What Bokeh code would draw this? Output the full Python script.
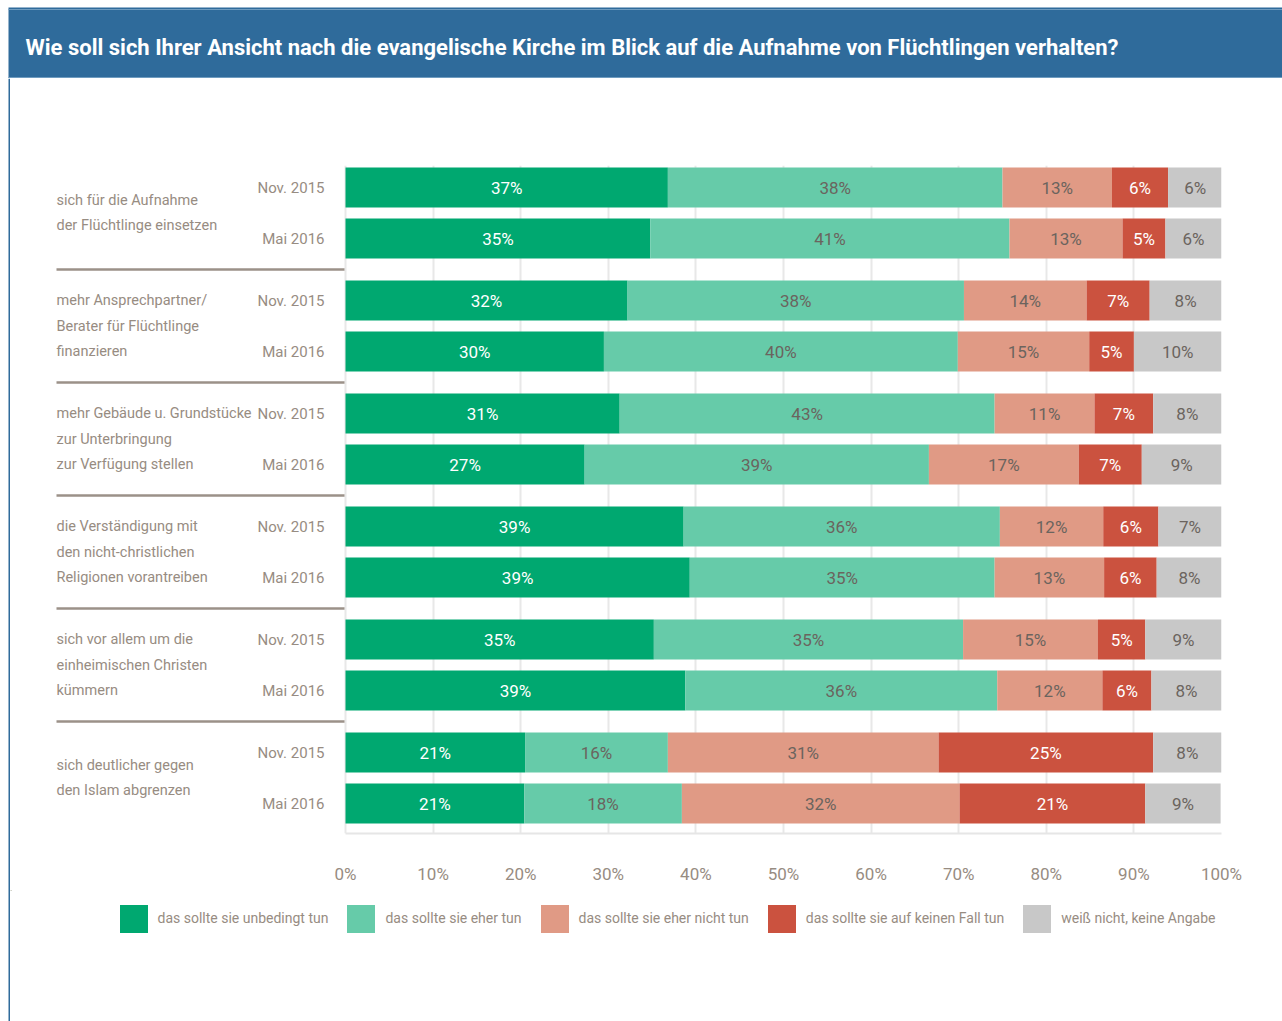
from bokeh.plotting import figure
from bokeh.layouts import column, row
from bokeh.models import (Range1d, FixedTicker, PrintfTickFormatter, ColumnDataSource,
                          Legend, LegendItem)
from bokeh.core.properties import value
from bokeh.embed import file_html
from bokeh.resources import INLINE

FONT = "Roboto"

TITLE = ("Wie soll sich Ihrer Ansicht nach die evangelische Kirche im Blick auf die "
         "Aufnahme von Flüchtlingen verhalten?")

groups = [
    "sich für die Aufnahme\nder Flüchtlinge einsetzen",
    "mehr Ansprechpartner/\nBerater für Flüchtlinge\nfinanzieren",
    "mehr Gebäude u. Grundstücke\nzur Unterbringung\nzur Verfügung stellen",
    "die Verständigung mit\nden nicht-christlichen\nReligionen vorantreiben",
    "sich vor allem um die\neinheimischen Christen\nkümmern",
    "sich deutlicher gegen\nden Islam abgrenzen",
]
periods = ["Nov. 2015", "Mai 2016"]

series = ["das sollte sie unbedingt tun", "das sollte sie eher tun",
          "das sollte sie eher nicht tun", "das sollte sie auf keinen Fall tun",
          "weiß nicht, keine Angabe"]

# bar widths (%)
unbedingt = [36.8, 34.8, 32.2, 29.5, 31.3, 27.3, 38.6, 39.3, 35.2, 38.8, 20.5, 20.4]
eher = [38.2, 41.0, 38.4, 40.4, 42.8, 39.3, 36.1, 34.8, 35.3, 35.6, 16.3, 18.0]
eher_nicht = [12.5, 12.9, 14.0, 15.0, 11.4, 17.1, 11.8, 12.5, 15.4, 12.0, 30.9, 31.7]
keinen_fall = [6.4, 4.9, 7.2, 5.1, 6.7, 7.2, 6.3, 6.0, 5.4, 5.6, 24.5, 21.2]
weiss_nicht = [6.2, 6.4, 8.2, 10.0, 7.8, 9.1, 7.2, 7.5, 8.7, 8.0, 7.8, 8.6]

# printed labels (%)
lab_unbedingt = [37, 35, 32, 30, 31, 27, 39, 39, 35, 39, 21, 21]
lab_eher = [38, 41, 38, 40, 43, 39, 36, 35, 35, 36, 16, 18]
lab_eher_nicht = [13, 13, 14, 15, 11, 17, 12, 13, 15, 12, 31, 32]
lab_keinen_fall = [6, 5, 7, 5, 7, 7, 6, 6, 5, 6, 25, 21]
lab_weiss_nicht = [6, 6, 8, 10, 8, 9, 7, 8, 9, 8, 8, 9]

ticks = [0, 10, 20, 30, 40, 50, 60, 70, 80, 90, 100]

colors = ["#00a870", "#66cba9", "#e09a85", "#cb523f", "#c8c8c8"]
label_colors = ["#ffffff", "#6b645e", "#6b645e", "#ffffff", "#6b645e"]
TEXT_GREY = "#978c82"
BLUE = "#2f6b9b"

values = [unbedingt, eher, eher_nicht, keinen_fall, weiss_nicht]
labels = [lab_unbedingt, lab_eher, lab_eher_nicht, lab_keinen_fall, lab_weiss_nicht]

# ---- layout constants (page pixels) ----
W, H = 1282, 1021
TITLE_H = 78           # height of the title strip
STRIP_W = 10           # white margin + blue rule on the left
X0_PX, X100_PX = 345, 1221
TOP_PX, BOT_PX = 165, 833
CHART_BOTTOM_PX = 890  # where the legend strip begins
SWATCH = 28            # visible legend swatch size
SW_AREA = 35           # legend glyph area (bokeh insets area glyphs by 10%)
INSET = (SW_AREA - SWATCH) / 2
LEGEND_SWATCH_TOP_PX = 904
LEGEND_SWATCH_LEFT_PX = 119
ROW0_PX = 187
GROUP_STEP, ROW_STEP, BAR_H = 113, 51, 40
PX = (X100_PX - X0_PX) / 100.0

MAIN_W = W - STRIP_W
MAIN_H = H - TITLE_H
CHART_H = CHART_BOTTOM_PX - TITLE_H
LEG_H = H - CHART_BOTTOM_PX
frame_w = X100_PX - STRIP_W
x_start = -(X0_PX - STRIP_W) / PX


def xpx(px):
    return (px - X0_PX) / PX


def bare(fig):
    fig.grid.visible = False
    fig.outline_line_color = None
    fig.background_fill_color = "white"
    fig.border_fill_color = "white"


# ---------------- title strip ----------------
tfig = figure(width=W, height=TITLE_H, output_backend="svg", toolbar_location=None,
              x_range=Range1d(0, W), y_range=Range1d(TITLE_H, 0),
              x_axis_location=None, y_axis_location=None, min_border=0)
bare(tfig)
tfig.quad(left=[8], right=[W], top=[7], bottom=[TITLE_H], fill_color=BLUE, line_color=None)
tfig.segment(x0=[8], x1=[W], y0=[9], y1=[9], line_color="#6f9cc0", line_width=1)
tfig.segment(x0=[8], x1=[W], y0=[TITLE_H - 1], y1=[TITLE_H - 1], line_color="#6f9cc0", line_width=1)
tfig.text(x=[25], y=[47], text=[TITLE], text_color="white", text_font=value(FONT),
          text_font_size="22px", text_font_style="bold", text_baseline="middle")

# ---------------- left rule strip ----------------
sfig = figure(width=STRIP_W, height=MAIN_H, output_backend="svg", toolbar_location=None,
              x_range=Range1d(0, STRIP_W), y_range=Range1d(0, MAIN_H),
              x_axis_location=None, y_axis_location=None, min_border=0)
bare(sfig)
sfig.quad(left=[8], right=[10.5], top=[MAIN_H], bottom=[0], fill_color=BLUE, line_color=None)

# ---------------- main chart ----------------
ys = []
for g in range(len(groups)):
    for k in range(len(periods)):
        ys.append(g * GROUP_STEP + k * ROW_STEP)

p = figure(width=MAIN_W, height=CHART_H, output_backend="svg", toolbar_location=None,
           x_range=Range1d(x_start, 100),
           y_range=Range1d(BOT_PX - ROW0_PX, TOP_PX - ROW0_PX),
           y_axis_location=None, min_border_left=0,
           min_border_right=MAIN_W - frame_w,
           min_border_top=TOP_PX - TITLE_H, min_border_bottom=CHART_BOTTOM_PX - BOT_PX)
p.outline_line_color = None
p.background_fill_color = "white"
p.border_fill_color = "white"
p.ygrid.visible = False
p.xgrid.ticker = FixedTicker(ticks=ticks)
p.xgrid.grid_line_color = "#e8e8e8"
p.xgrid.grid_line_width = 2

ax = p.xaxis[0]
ax.ticker = FixedTicker(ticks=ticks)
ax.formatter = PrintfTickFormatter(format="%d%%")
ax.bounds = (0, 100)
ax.axis_line_color = "#e6e6e6"
ax.axis_line_width = 2
ax.major_tick_line_color = None
ax.minor_tick_line_color = None
ax.major_label_standoff = 24
ax.major_label_text_font = FONT
ax.major_label_text_font_size = "17px"
ax.major_label_text_color = TEXT_GREY

# bars
cum = [0.0] * len(ys)
lx, ly, lt, lc = [], [], [], []
for i, name in enumerate(series):
    left = cum[:]
    right = [a + b for a, b in zip(left, values[i])]
    src = ColumnDataSource(dict(y=ys, left=left, right=right))
    p.hbar(y="y", left="left", right="right", height=BAR_H, source=src,
           fill_color=colors[i], line_color=None)
    for j in range(len(ys)):
        lx.append((left[j] + right[j]) / 2)
        ly.append(ys[j])
        lt.append(f"{labels[i][j]}%")
        lc.append(label_colors[i])
    cum = right

p.text(x="x", y="y", text="t", text_color="c",
       source=ColumnDataSource(dict(x=lx, y=ly, t=lt, c=lc)),
       text_font=value(FONT), text_font_size="17px",
       text_align="center", text_baseline="middle")

# period labels
p.text(x=[xpx(324)] * len(ys), y=ys,
       text=[periods[k] for g in range(len(groups)) for k in range(len(periods))],
       text_font=value(FONT), text_font_size="15px", text_color=TEXT_GREY,
       text_align="right", text_baseline="middle")

# group labels
gy = [g * GROUP_STEP + ROW_STEP / 2 for g in range(len(groups))]
p.text(x=[xpx(56)] * len(groups), y=gy, text=groups,
       text_font=value(FONT), text_font_size="14.5px", text_color=TEXT_GREY,
       text_align="left", text_baseline="middle", text_line_height=1.5)

# separators between groups
sy = [g * GROUP_STEP + (ROW_STEP + GROUP_STEP) / 2 for g in range(len(groups) - 1)]
p.segment(x0=[xpx(56)] * len(sy), x1=[xpx(344)] * len(sy), y0=sy, y1=sy,
          line_color="#9b9188", line_width=2.5)

# ---------------- legend strip ----------------
lfig = figure(width=MAIN_W, height=LEG_H, output_backend="svg", toolbar_location=None,
              x_range=Range1d(0, MAIN_W), y_range=Range1d(LEG_H, 0),
              x_axis_location=None, y_axis_location=None, min_border=0)
bare(lfig)
# swatch renderers: one off-screen bar each, so the legend can draw its swatch
leg_renderers = [lfig.hbar(y=[-1000], left=[0], right=[1], height=1,
                           fill_color=c, line_color=None)
                 for c in colors]
leg_top = LEGEND_SWATCH_TOP_PX - INSET - CHART_BOTTOM_PX
legend = Legend(items=[LegendItem(label=n, renderers=[r]) for n, r in zip(series, leg_renderers)],
                orientation="horizontal",
                location=(LEGEND_SWATCH_LEFT_PX - INSET - STRIP_W, LEG_H - leg_top - SW_AREA),
                glyph_width=SW_AREA, glyph_height=SW_AREA, label_standoff=7, spacing=15,
                padding=0, margin=0, border_line_color=None,
                background_fill_alpha=0,
                label_text_font=FONT, label_text_font_size="14px",
                label_text_color=TEXT_GREY)
lfig.add_layout(legend)

layout = column(tfig, row(sfig, column(p, lfig, spacing=0), spacing=0), spacing=0)

open("out.html", "w").write(file_html(layout, INLINE))
